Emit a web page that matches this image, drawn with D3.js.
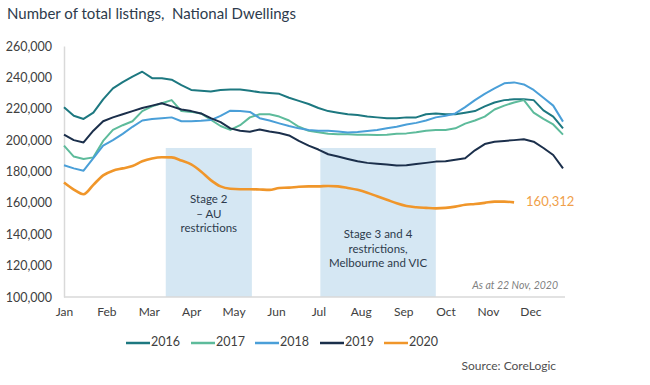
<!DOCTYPE html>
<html><head><meta charset="utf-8">
<script src="https://cdn.jsdelivr.net/npm/d3@7"></script>
<style>
body{margin:0;background:#fff;}
svg{font-family:Lato,"Open Sans",sans-serif;}
</style></head>
<body><div id="chart"></div>
<script>
const months = ["Jan","Feb","Mar","Apr","May","Jun","Jul","Aug","Sep","Oct","Nov","Dec"];
const yTicks = [100000,120000,140000,160000,180000,200000,220000,240000,260000];
const years = ["2016","2017","2018","2019","2020"];
const colors = ["#1d7880","#5dbb9b","#4a9fd8","#1b2f4b","#f0962a"];
// weekly values (thousands), week 0 = start of Jan
const s2016 = [221,215.5,213.5,217.5,226,233,237,240.5,243.6,239.5,239.5,238.5,235,232,231.5,231,232,232.3,232.3,231.5,230.5,230,229.5,227,225,223,220.5,218.5,217.5,216.5,216,215,214.5,214,214,214.5,214.5,216.5,217,216.5,216.5,217.5,218.5,221.5,224,225.5,226,226,225.5,219,215,207.5];
const s2017 = [196.5,189.5,188,189,199.5,206.5,209.5,212,218.5,221.5,223.5,225.5,218.5,218,217,213,209,206.5,209.5,214.5,216.5,216.5,215,212.5,208.5,206,205,204,203.8,203.8,203.5,203.5,203.3,203.5,204,204.3,205,206,206.4,206.5,207.5,210.5,212.5,215,219.5,222,224,225.5,217.5,213.5,210,203.5];
const s2018 = [184,182,180.5,188.5,196.5,200,204,208.5,212.5,213.5,214,214.5,212,212,212.3,212.8,215.5,218.8,218.5,218,214,212.5,210.7,209,207.5,206.5,206,206,205.5,204.8,205.2,205.8,206.4,207.5,208.5,210,211,212.5,214.5,215.5,217,221,225.5,229.5,233,236.2,236.8,235.5,232,227,222,211.8];
const s2019 = [203.5,200,198.5,206,212,214.5,216.5,218.5,220.5,222,223.5,221.5,219.5,218.5,217,214,211.5,207.5,206,205.3,206.8,205.5,204.5,203,199.5,196.5,194,191,189.5,188,186.5,185.5,185,184.5,183.8,184,184.8,185.5,186.3,186.5,187.5,188.5,193.5,197.5,199,199.5,200,200.5,199,195,190.5,182];
const s2020 = [173,168.5,165.5,171.5,177.5,180.5,182,183.5,186.5,188.3,189.1,189,187,184.5,180,174.5,170.5,169,168.7,168.7,168.5,168.3,169.5,169.7,170.3,170.5,170.5,170.8,170.5,169.5,168.3,166.5,164.2,162,159.7,158,157.2,156.8,156.5,156.8,157.6,158.8,159.3,160,160.8,160.8,160.312];
const series = [s2016,s2017,s2018,s2019,s2020];
// restriction periods in week units
const shadeStart = [10.4, 26.2];
const shadeEnd = [19.2, 38.0];
const shadeTop = [195000, 195000];
const shadeText = [["Stage 2","– AU","restrictions"],["Stage 3 and 4","restrictions,","Melbourne and VIC"]];
const lastLabel = "160,312";

const W=650,H=385;
const svg=d3.select("#chart").append("svg").attr("width",W).attr("height",H);
const x=d3.scaleLinear().domain([0,51]).range([64,563]);
const y=d3.scaleLinear().domain([100000,260000]).range([297,46]);
const textCol="#404040";

svg.append("text").attr("x",7).attr("y",19).attr("font-size",15).attr("fill","#2d3b4c")
  .attr("xml:space","preserve").style("white-space","pre")
  .text("Number of total listings,  National Dwellings");

// shaded boxes
shadeStart.forEach((s,i)=>{
  svg.append("rect").attr("x",x(s)).attr("y",y(shadeTop[i])).attr("width",x(shadeEnd[i])-x(s))
    .attr("height",y(100000)-y(shadeTop[i])).attr("fill","#d5e7f3");
});
const tpos=[[208,200],[377,235]];
shadeText.forEach((lines,i)=>{
  lines.forEach((t,j)=>{
    svg.append("text").attr("x",(x(shadeStart[i])+x(shadeEnd[i]))/2).attr("y",tpos[i][1]+j*14.7)
      .attr("text-anchor","middle").attr("dominant-baseline","middle").attr("font-size",11.5).attr("fill","#2d3b4c").text(t);
  });
});

// axes
const yAxis=d3.axisLeft(y).tickValues(yTicks).tickSize(0).tickPadding(12).tickFormat(d3.format(","));
const gy=svg.append("g").attr("transform","translate(64,0)").call(yAxis);
gy.select(".domain").attr("stroke","#d9d9d9").attr("stroke-width",1.5);
gy.selectAll("text").attr("font-size",12.5).attr("fill",textCol).attr("font-family","Lato,sans-serif");

const gx=svg.append("g").attr("transform","translate(0,297)")
  .call(d3.axisBottom(x).tickValues(months.map((m,i)=>i*52/12)).tickSize(0).tickPadding(10).tickFormat((d,i)=>months[i]));
gx.select(".domain").attr("stroke","#d9d9d9").attr("stroke-width",1.5).attr("d","M64,0H565");
gx.selectAll("text").attr("font-size",12).attr("fill",textCol).attr("font-family","Lato,sans-serif");

// lines
series.forEach((s,i)=>{
  const line=d3.line().x((d,j)=>x(j)).y(d=>y(d*1000));
  if(i===4) line.curve(d3.curveMonotoneX);
  svg.append("path").datum(s).attr("d",line).attr("fill","none").attr("stroke",colors[i])
    .attr("stroke-width",i===4?2.6:2).attr("stroke-linejoin","round");
});

// last value label
const li=s2020.length-1;
svg.append("text").attr("x",x(li)+12).attr("y",y(s2020[li]*1000)).attr("dominant-baseline","middle")
  .attr("font-size",13).attr("fill","#f0a04a").text(lastLabel);

svg.append("text").attr("x",558).attr("y",289).attr("text-anchor","end").attr("font-size",10.5)
  .attr("font-style","italic").attr("fill","#7f7f7f").text("As at 22 Nov, 2020");

// legend
const legX=[126,191,255,320,384];
years.forEach((yr,i)=>{
  svg.append("line").attr("x1",legX[i]).attr("x2",legX[i]+24).attr("y1",343).attr("y2",343)
    .attr("stroke",colors[i]).attr("stroke-width",2.5);
  svg.append("text").attr("x",legX[i]+25).attr("y",343).attr("dominant-baseline","middle")
    .attr("font-size",12.5).attr("fill",textCol).text(yr);
});
svg.append("text").attr("x",556).attr("y",367).attr("text-anchor","end").attr("dominant-baseline","middle")
  .attr("font-size",12).attr("fill","#505050").text("Source: CoreLogic");
</script></body></html>
